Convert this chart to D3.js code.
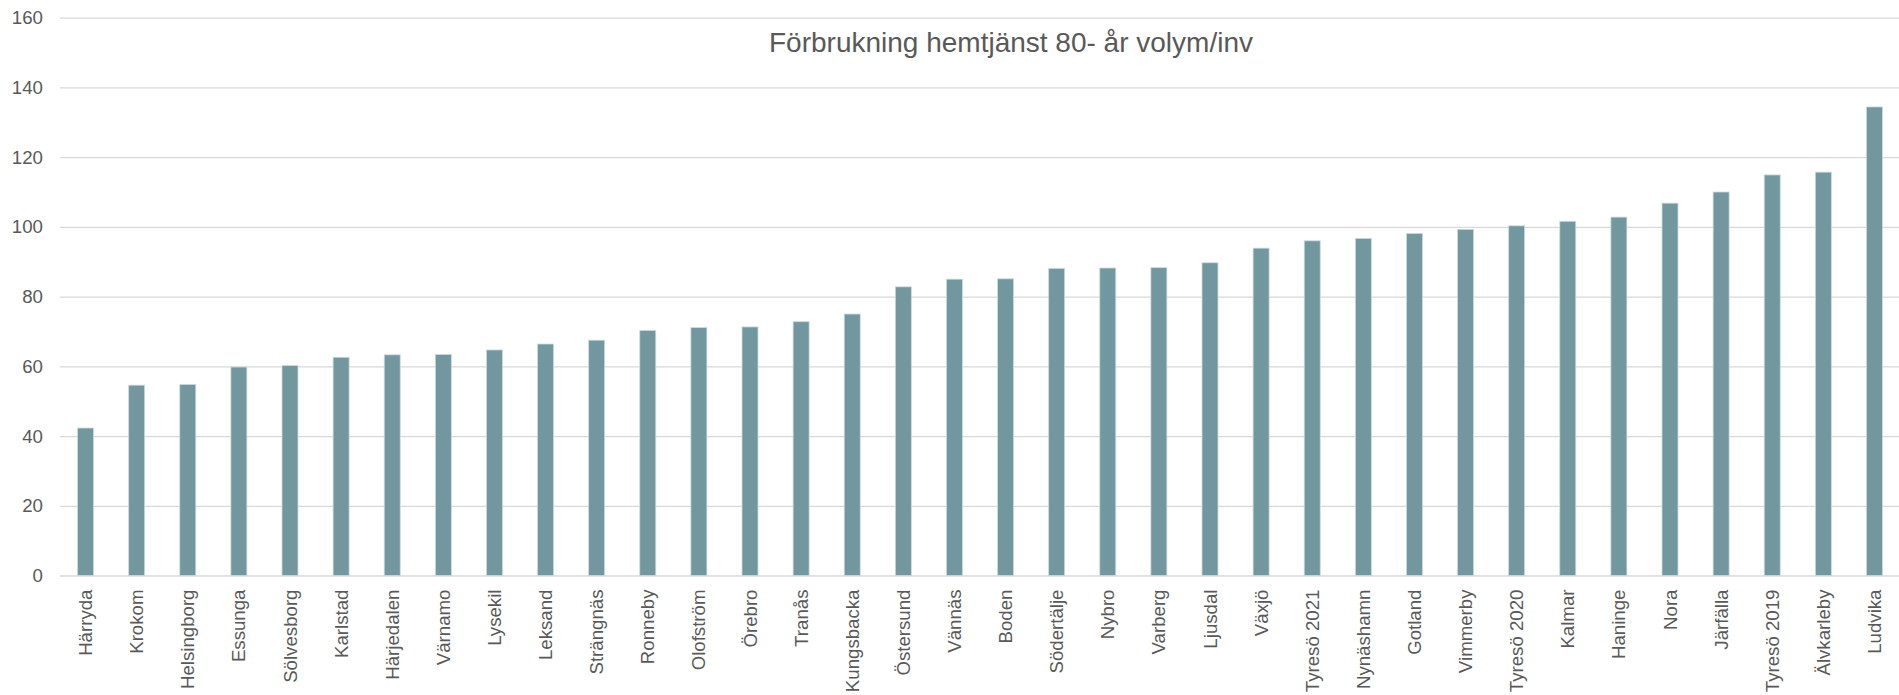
<!DOCTYPE html>
<head>
    <meta charset="utf-8">
    <title>Förbrukning hemtjänst 80- år volym/inv</title>
    <style>
        body { margin: 0; background: #fff; }
        text { font-family: "Liberation Sans", Arial, sans-serif; fill: #595959; }
    </style>
</head>
<body>

<script src="https://cdn.jsdelivr.net/npm/d3@7"></script>

<script>

    var municipalities = ['Härryda', 'Krokom', 'Helsingborg', 'Essunga', 'Sölvesborg', 'Karlstad',
        'Härjedalen', 'Värnamo', 'Lysekil', 'Leksand', 'Strängnäs', 'Ronneby', 'Olofström',
        'Örebro', 'Tranås', 'Kungsbacka', 'Östersund', 'Vännäs', 'Boden', 'Södertälje', 'Nybro',
        'Varberg', 'Ljusdal', 'Växjö', 'Tyresö 2021', 'Nynäshamn', 'Gotland', 'Vimmerby',
        'Tyresö 2020', 'Kalmar', 'Haninge', 'Nora', 'Järfälla', 'Tyresö 2019', 'Älvkarleby', 'Ludvika'];

    var volume = [42.3, 54.6, 54.8, 59.8, 60.2, 62.6,
        63.3, 63.4, 64.7, 66.4, 67.5, 70.3, 71.1,
        71.3, 72.8, 75.0, 82.8, 85.0, 85.1, 88.1, 88.2,
        88.3, 89.7, 93.9, 96.0, 96.7, 98.1, 99.3,
        100.3, 101.6, 102.8, 106.8, 110.0, 114.9, 115.7, 134.4];

    var yTicks = [0, 20, 40, 60, 80, 100, 120, 140, 160];

    var title = 'Förbrukning hemtjänst 80- år volym/inv';

    var width = 1899, height = 695;
    var plot = {left: 60, right: 1900, top: 17.7, bottom: 575.5};

    var svg = d3.select('body').append('svg')
        .attr('width', width)
        .attr('height', height);

    var x = d3.scaleBand()
        .domain(municipalities)
        .range([plot.left, plot.right])
        .paddingInner(0.687)
        .paddingOuter(0.3435);

    var y = d3.scaleLinear()
        .domain([0, 160])
        .range([plot.bottom, plot.top]);

    // gridlines + y labels
    var yAxis = d3.axisLeft(y)
        .tickValues(yTicks)
        .tickSize(-(1899 - plot.left))
        .tickPadding(17);

    var gy = svg.append('g')
        .attr('transform', 'translate(' + plot.left + ',0)')
        .call(yAxis);
    gy.select('.domain').remove();
    gy.selectAll('line').attr('stroke', '#d9d9d9').attr('stroke-width', 1.3);
    gy.selectAll('text')
        .style('font-size', '18.67px')
        .attr('fill', '#595959');

    // bars
    svg.append('g').selectAll('rect')
        .data(municipalities)
        .enter().append('rect')
        .attr('x', function(d) { return x(d); })
        .attr('width', x.bandwidth())
        .attr('y', function(d, i) { return y(volume[i]); })
        .attr('height', function(d, i) { return y(0) - y(volume[i]); })
        .attr('fill', '#72979f')
        .attr('stroke', '#cddadd')
        .attr('stroke-width', 0.8);

    // x labels
    var xAxis = d3.axisBottom(x).tickSize(0).tickPadding(0);
    var gx = svg.append('g')
        .attr('transform', 'translate(0,' + plot.bottom + ')')
        .call(xAxis);
    gx.select('.domain').remove();
    gx.selectAll('text')
        .style('font-size', '18.67px')
        .attr('fill', '#595959')
        .attr('text-anchor', 'end')
        .attr('dy', '0.35em')
        .attr('transform', 'translate(0,14) rotate(-90)')
        .attr('x', 0)
        .attr('y', 0);

    svg.append('text')
        .attr('x', 1011)
        .attr('y', 52)
        .attr('text-anchor', 'middle')
        .style('font-size', '28px')
        .text(title);

</script>

</body>
